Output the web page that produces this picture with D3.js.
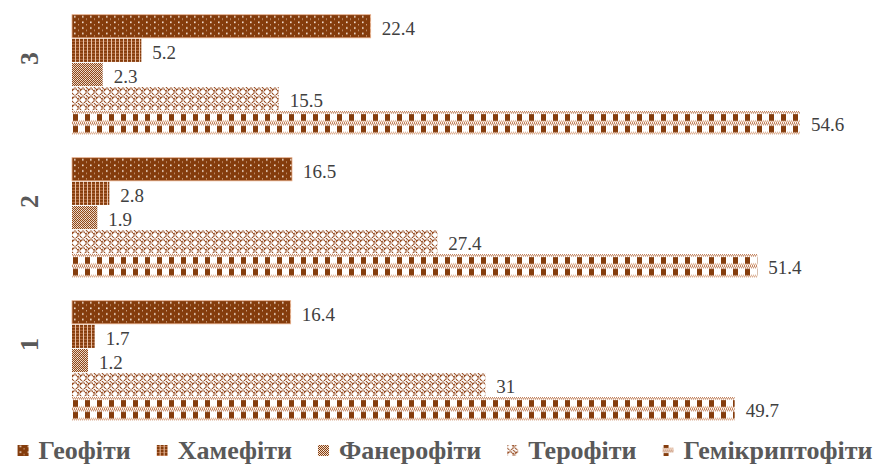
<!DOCTYPE html>
<html><head><meta charset="utf-8">
<script src="https://cdn.jsdelivr.net/npm/d3@7"></script>
<style>
html,body{margin:0;padding:0;background:#fff;}
svg{display:block;}
</style></head>
<body>
<svg id="chart" width="882" height="466"></svg>
<script>
const categories = ["3", "2", "1"];
const seriesNames = ["Геофіти", "Хамефіти", "Фанерофіти", "Терофіти", "Гемікриптофіти"];
const geofity = [22.4, 16.5, 16.4];
const khamefity = [5.2, 2.8, 1.7];
const fanerofity = [2.3, 1.9, 1.2];
const terofity = [15.5, 27.4, 31];
const hemikryptofity = [54.6, 51.4, 49.7];
const seriesValues = [geofity, khamefity, fanerofity, terofity, hemikryptofity];

const BROWN = "#843C0C";
const svg = d3.select("#chart");
const defs = svg.append("defs");

function pat(id, w, h, draw) {
  const p = defs.append("pattern").attr("id", id).attr("patternUnits", "userSpaceOnUse")
    .attr("width", w).attr("height", h);
  draw(p);
}
pat("p0", 8, 5.6, p => {
  p.append("rect").attr("width", 8).attr("height", 5.6).attr("fill", BROWN);
  p.append("rect").attr("x", 2).attr("y", 1.3).attr("width", 1.6).attr("height", 1.6).attr("fill", "#f6e6da");
  p.append("rect").attr("x", 6).attr("y", 4).attr("width", 1).attr("height", 1).attr("fill", "#e8c8b0");
});
pat("p1", 4, 3, p => {
  p.append("rect").attr("width", 4).attr("height", 3).attr("fill", BROWN);
  p.append("rect").attr("x", 3).attr("y", 0).attr("width", 1).attr("height", 3).attr("fill", "#e9c3a8");
  p.append("rect").attr("x", 0).attr("y", 2).attr("width", 3).attr("height", 1).attr("fill", "#b86f44");
});
pat("p2", 4, 4, p => {
  p.append("rect").attr("width", 4).attr("height", 4).attr("fill", "#f3dccb");
  [[0,0],[2,0],[1,1],[3,1],[0,2],[2,2],[1,3],[3,3]].forEach(([a,b]) =>
    p.append("rect").attr("x", a).attr("y", b).attr("width", 1).attr("height", 1).attr("fill", BROWN));
  p.append("rect").attr("x", 1).attr("y", 0).attr("width", 1).attr("height", 1).attr("fill", "#ffffff");
});
pat("p3", 8, 8, p => {
  p.append("rect").attr("width", 8).attr("height", 8).attr("fill", "#ffffff");
  p.append("path").attr("d", "M0,4 L3,1 L6,4 L7,3 M4,8 L7,5 L8,6 M0,6 L2,8 M6,0 L8,2 M0,2 L1,3")
    .attr("stroke", "#94461a").attr("stroke-width", 1.3).attr("fill", "none").attr("stroke-dasharray", "1.3 0.5");
});
pat("p4", 12, 11.6, p => {
  p.append("rect").attr("width", 12).attr("height", 11.6).attr("fill", "#ffffff");
  for (let i = 0; i < 12; i++) {
    p.append("rect").attr("x", i).attr("y", (i % 2) * 1.2).attr("width", 1).attr("height", 1.2).attr("fill", "#b56a3e");
    p.append("rect").attr("x", i).attr("y", 10.4 - (i % 2) * 1.2).attr("width", 1).attr("height", 1.2).attr("fill", "#cf9068");
  }
  p.append("rect").attr("x", 1).attr("y", 3).attr("width", 5).attr("height", 6.6).attr("fill", BROWN);
});

const x = d3.scaleLinear().domain([0, 60]).range([72, 872]);
const y0 = d3.scaleBand().domain(categories).range([3, 432]).paddingInner(0.15).paddingOuter(0.075);
const y1 = d3.scaleBand().domain(seriesNames).range([0, y0.bandwidth()]).padding(0.04);

const data = [];
categories.forEach((c, ci) => {
  seriesNames.forEach((s, si) => {
    data.push({cat: c, ser: s, si: si, v: seriesValues[si][ci]});
  });
});

const bars = svg.append("g").selectAll("g.bar").data(data).join("g")
  .attr("class", "bar")
  .attr("transform", d => `translate(${x(0)},${y0(d.cat) + y1(d.ser)})`);
bars.append("rect")
  .attr("x", 0).attr("y", 0)
  .attr("width", d => x(d.v) - x(0))
  .attr("height", y1.bandwidth())
  .attr("fill", d => `url(#p${d.si})`)
  .attr("stroke", d => d.si === 0 ? "#e9b08c" : "none")
  .attr("stroke-width", 0.8);
bars.append("text")
  .attr("x", d => x(d.v) - x(0) + 11)
  .attr("y", y1.bandwidth() / 2 + 2)
  .attr("dominant-baseline", "central")
  .attr("font-family", "Liberation Serif, Times New Roman, serif")
  .attr("font-size", 19)
  .attr("fill", "#404040")
  .text(d => String(d.v));

svg.append("g").selectAll("text").data(categories).join("text")
  .attr("transform", d => `translate(38,${y0(d) + y0.bandwidth() / 2 - 16}) rotate(-90)`)
  .attr("text-anchor", "middle")
  .attr("font-family", "Liberation Serif, Times New Roman, serif")
  .attr("font-weight", "bold")
  .attr("font-size", 26)
  .attr("fill", "#595959")
  .text(d => d);

const leg = svg.append("g");
const items = leg.selectAll("g").data(seriesNames).join("g");
items.append("rect").attr("x", 0).attr("y", -5).attr("width", 11).attr("height", 11)
  .attr("fill", (d, i) => `url(#p${i})`);
items.append("text").attr("x", 21).attr("y", 0)
  .attr("dominant-baseline", "central")
  .attr("font-family", "Liberation Serif, Times New Roman, serif")
  .attr("font-weight", "bold")
  .attr("font-size", 26)
  .attr("fill", "#595959")
  .text(d => d);
let cx = 0;
const gap = 26;
const offs = [];
items.each(function() {
  const g = d3.select(this);
  offs.push(cx);
  cx += 21 + g.select("text").node().getComputedTextLength() + gap;
});
const total = cx - gap;
const startX = 445 - total / 2;
items.attr("transform", (d, i) => `translate(${startX + offs[i]},450)`);
</script>
</body></html>
